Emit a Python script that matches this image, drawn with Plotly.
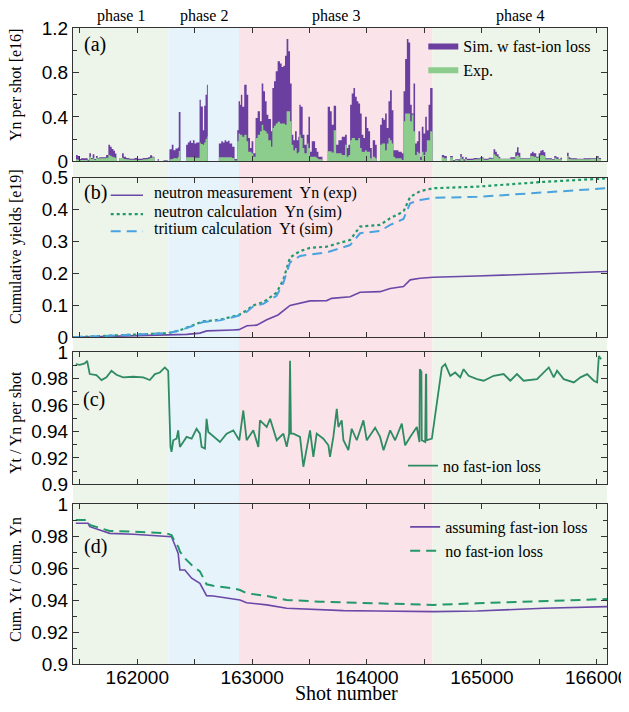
import plotly.graph_objects as go

# ---------------- data ----------------
phase_names = ["phase 1", "phase 2", "phase 3", "phase 4"]
phase_bounds = [161440, 162270, 162885, 164570, 166090]
phase_colors = ["#edf4e9", "#e6f3fa", "#fae3e9", "#edf4e9"]

# (a) per-shot neutron yield [e16], segments start shot / sim / exp
p1_start = [161440, 161466, 161481, 161495, 161510, 161568, 161582, 161597, 161611, 161626,
            161640, 161655, 161669, 161728, 161748, 161763, 161777, 161792, 161806, 161818,
            161844, 161867, 161882, 161902, 161931, 161975, 162004, 162047, 162091, 162111,
            162129, 162149, 162178, 162187, 162228, 162265]
p1_sim = [0, 0.057, 0.048, 0.02, 0.027, 0.015, 0.072, 0.03, 0.063, 0.02,
          0.048, 0.03, 0.036, 0.057, 0.148, 0.13, 0.11, 0.095, 0.07, 0,
          0.03, 0.072, 0.04, 0.03, 0.024, 0.03, 0.024, 0.03, 0.036, 0.055,
          0.042, 0, 0.02, 0, 0.01, 0]
p1_exp = [0, 0.018, 0.015, 0.01, 0.012, 0.006, 0.042, 0.02, 0.027, 0.012,
          0.033, 0.025, 0.027, 0.033, 0.057, 0.05, 0.04, 0.036, 0.03, 0,
          0.03, 0.033, 0.02, 0.018, 0.015, 0.015, 0.012, 0.018, 0.024, 0.03,
          0.036, 0, 0.006, 0, 0.005, 0]

p2_start = [162280, 162300, 162315, 162332, 162353, 162361, 162376, 162425, 162440, 162455,
            162469, 162484, 162498, 162513, 162542, 162553, 162571, 162582, 162594, 162606,
            162614, 162710, 162731, 162745, 162760, 162774, 162789, 162803, 162826, 162847,
            162870]
p2_sim = [0.108, 0.148, 0.10, 0.115, 0.125, 0.443, 0, 0.148, 0.17, 0.185,
          0.165, 0.19, 0.16, 0.17, 0.554, 0.494, 0.28, 0.50, 0.60, 0.69,
          0, 0.16, 0.18, 0.17, 0.19, 0.175, 0.185, 0.16, 0.13, 0.02,
          0.28]
p2_exp = [0.018, 0.02, 0.03, 0.027, 0.04, 0.093, 0, 0.036, 0.036, 0.036,
          0.036, 0.036, 0.033, 0.033, 0.168, 0.155, 0.15, 0.17, 0.20, 0.223,
          0, 0.036, 0.036, 0.036, 0.036, 0.036, 0.036, 0.036, 0.03, 0.008,
          0.18]

p3_start = [162882, 162894, 162902, 162914, 162931, 162952, 162966, 162981, 162995, 163010,
            163030, 163048, 163068, 163083, 163097, 163112, 163126, 163141, 163164, 163176,
            163190, 163205, 163222, 163242, 163257, 163272, 163286, 163300, 163315, 163330,
            163344, 163359, 163373, 163388, 163402, 163411, 163423, 163440, 163455, 163475,
            163490, 163504, 163519, 163548, 163562, 163577, 163612, 163658, 163678, 163693,
            163710, 163731, 163751, 163780, 163809, 163824, 163838, 163853, 163867, 163882,
            163896, 163911, 163925, 163940, 163954, 163969, 163983, 163998, 164012, 164027,
            164042, 164050, 164071, 164085, 164114, 164129, 164143, 164158, 164172, 164187,
            164201, 164216, 164230, 164245, 164274, 164303, 164318, 164332, 164347, 164361,
            164376, 164390, 164405, 164419, 164434, 164448, 164463, 164477, 164492, 164507,
            164521, 164536, 164550]
p3_sim = [0.54, 0.51, 0.60, 0.49, 0.69, 0.60, 0.21, 0.12, 0.18, 0.072,
          0.39, 0.45, 0.36, 0.70, 0.63, 0.54, 0.42, 0.38, 0.27, 0.66,
          0.72, 0.81, 0.90, 0.88, 0.85, 0.86, 0.95, 1.10, 0.99, 0.70,
          0.24, 0.19, 0.27, 0.19, 0.22, 0.51, 0.49, 0.24, 0.15, 0.24,
          0.40, 0.087, 0.18, 0.12, 0.087, 0.042, 0, 0.49, 0.45, 0.33,
          0.50, 0.15, 0.19, 0.22, 0.24, 0.12, 0.15, 0.51, 0.61, 0.66,
          0.58, 0.54, 0.52, 0.43, 0.24, 0.21, 0.40, 0.30, 0.27, 0.12,
          0, 0.19, 0.15, 0, 0.33, 0.39, 0.375, 0.43, 0.30, 0.54,
          0.64, 0.46, 0.10, 0.10, 0.087, 0.072, 0.63, 0.92, 1.10, 1.07,
          0.51, 0.43, 0.70, 0.16, 0.18, 0.27, 0.042, 0.31, 0.25, 0.40,
          0.28, 0.51, 0.66]
p3_exp = [0.25, 0.24, 0.24, 0.22, 0.24, 0.18, 0.087, 0.087, 0.072, 0.042,
          0.21, 0.24, 0.27, 0.33, 0.28, 0.27, 0.25, 0.19, 0.13, 0.30,
          0.32, 0.34, 0.355, 0.34, 0.34, 0.34, 0.33, 0.45, 0.45, 0.36,
          0.15, 0.10, 0.12, 0.072, 0.087, 0.24, 0.21, 0.12, 0.072, 0.16,
          0.12, 0.042, 0.042, 0.042, 0.027, 0.018, 0, 0.09, 0.09, 0.08,
          0.28, 0.072, 0.072, 0.057, 0.15, 0.042, 0.057, 0.19, 0.21, 0.21,
          0.19, 0.19, 0.21, 0.12, 0.087, 0.087, 0.10, 0.087, 0.087, 0.027,
          0, 0.042, 0.027, 0, 0.15, 0.16, 0.16, 0.10, 0.16, 0.21,
          0.19, 0.16, 0.042, 0.027, 0.027, 0.012, 0.36, 0.43, 0.43, 0.43,
          0.36, 0.42, 0.27, 0.057, 0.087, 0.072, 0.012, 0.087, 0.057, 0.087,
          0.19, 0.19, 0.27]

p4_start = [164571, 164652, 164672, 164695, 164724, 164748, 164768, 164797, 164812, 164826,
            164841, 164855, 164870, 164928, 164957, 164986, 165015, 165059, 165088, 165102,
            165117, 165131, 165146, 165160, 165248, 165291, 165306, 165320, 165335, 165422,
            165437, 165451, 165474, 165495, 165509, 165524, 165538, 165553, 165611, 165631,
            165649, 165669, 165684, 165698, 165742, 165756, 165771, 165829, 165887, 165945,
            166004, 166018]
p4_sim = [0, 0.057, 0.048, 0, 0.048, 0.012, 0.018, 0.018, 0.066, 0.042,
          0.018, 0.036, 0.024, 0.03, 0.027, 0.036, 0.024, 0.033, 0.027, 0.108,
          0.087, 0.063, 0.042, 0.024, 0.036, 0.081, 0.127, 0.078, 0.027, 0.072,
          0.087, 0.072, 0.042, 0.072, 0.096, 0.102, 0.081, 0.027, 0.018, 0.048,
          0.036, 0.02, 0.033, 0, 0.078, 0.036, 0.027, 0.024, 0.027, 0.027,
          0.048, 0.03]
p4_exp = [0, 0.036, 0.027, 0, 0.036, 0.006, 0.012, 0.006, 0.042, 0.02,
          0.006, 0.02, 0.012, 0.018, 0.018, 0.027, 0.015, 0.024, 0.02, 0.063,
          0.051, 0.042, 0.027, 0.021, 0.024, 0.048, 0.057, 0.042, 0.024, 0.048,
          0.048, 0.042, 0.033, 0.048, 0.054, 0.057, 0.048, 0.018, 0.012, 0.033,
          0.02, 0.018, 0.018, 0, 0.048, 0.02, 0.018, 0.018, 0.018, 0.021,
          0.033, 0.021]
a_last_shot = 166038

# (b) cumulative yields [e19]
b_shots = [161440, 161760, 162050, 162270, 162370, 162457, 162574, 162720, 162885, 162955,
           163010, 163097, 163213, 163271, 163330, 163417, 163504, 163649, 163853, 163940,
           164114, 164202, 164318, 164376, 164463, 164577, 164958, 165539, 166090]
yn_sim = [0, 0.005, 0.01, 0.013, 0.022, 0.033, 0.05, 0.055, 0.07, 0.085,
          0.10, 0.11, 0.14, 0.18, 0.25, 0.27, 0.28, 0.284, 0.305, 0.347,
          0.352, 0.373, 0.394, 0.44, 0.458, 0.467, 0.472, 0.487, 0.498]
yt_sim = [0, 0.005, 0.01, 0.013, 0.021, 0.032, 0.048, 0.053, 0.068, 0.08,
          0.097, 0.105, 0.13, 0.17, 0.235, 0.255, 0.26, 0.266, 0.289, 0.326,
          0.333, 0.352, 0.371, 0.42, 0.43, 0.437, 0.44, 0.454, 0.467]
b_exp_shots = [161440, 161760, 162050, 162270, 162430, 162545, 162605, 162833, 162885, 162955,
               163040, 163127, 163225, 163330, 163417, 163504, 163649, 163693, 163853, 163940,
               164114, 164202, 164318, 164376, 164463, 164577, 164958, 165539, 166090]
yn_exp = [0, 0.003, 0.007, 0.008, 0.009, 0.013, 0.02, 0.023, 0.024, 0.036,
          0.038, 0.055, 0.07, 0.10, 0.107, 0.114, 0.115, 0.122, 0.127, 0.141,
          0.143, 0.153, 0.159, 0.18, 0.185, 0.188, 0.192, 0.20, 0.206]
b_names = ["neutron measurement", "neutron calculation", "tritium calculation"]
b_tags = ["Yn (exp)", "Yn (sim)", "Yt (sim)"]

# (c) Yt / Yn per shot, no fast-ion loss
c_shots = [161464, 161499, 161542, 161563, 161586, 161644, 161688, 161731, 161775, 161818,
           161877, 161964, 162051, 162109, 162153, 162196, 162240, 162269, 162289, 162298,
           162313, 162342, 162356, 162371, 162400, 162429, 162473, 162516, 162545, 162560,
           162589, 162603, 162618, 162720, 162778, 162836, 162888, 162923, 162952, 163010,
           163054, 163068, 163127, 163156, 163214, 163272, 163301, 163322, 163330, 163338,
           163359, 163417, 163446, 163475, 163504, 163533, 163562, 163620, 163664, 163678,
           163707, 163737, 163751, 163780, 163795, 163838, 163867, 163911, 163969, 163998,
           164071, 164114, 164144, 164202, 164245, 164303, 164332, 164376, 164434, 164457,
           164460, 164474, 164477, 164507, 164513, 164516, 164519, 164565, 164652, 164681,
           164725, 164768, 164812, 164841, 164885, 164958, 165016, 165103, 165190, 165248,
           165306, 165364, 165481, 165539, 165583, 165626, 165655, 165713, 165801, 165859,
           165917, 165975, 166004, 166019, 166039]
c_ratio = [0.9908, 0.9903, 0.9913, 0.9933, 0.9833, 0.9825, 0.9788, 0.9808, 0.9858, 0.9828,
           0.9808, 0.9813, 0.9808, 0.9788, 0.9833, 0.9845, 0.9883, 0.9858, 0.9283, 0.9245,
           0.9333, 0.9345, 0.9408, 0.9283, 0.932, 0.9358, 0.9345, 0.942, 0.9383, 0.9283,
           0.927, 0.9495, 0.9395, 0.932, 0.9383, 0.9408, 0.9333, 0.9558, 0.9333, 0.9408,
           0.9283, 0.9483, 0.9433, 0.9495, 0.9333, 0.9383, 0.9283, 0.9380, 0.9933, 0.9383,
           0.9383, 0.9358, 0.9133, 0.9258, 0.9408, 0.9208, 0.9383, 0.9345, 0.9295, 0.9208,
           0.9358, 0.957, 0.9433, 0.9483, 0.9333, 0.9258, 0.942, 0.9333, 0.9483, 0.9333,
           0.9428, 0.9358, 0.9258, 0.9408, 0.9333, 0.9458, 0.9295, 0.9358, 0.9433, 0.932,
           0.987, 0.985, 0.9333, 0.932, 0.9833, 0.9830, 0.9333, 0.9345, 0.9883, 0.9908,
           0.982, 0.9845, 0.9808, 0.987, 0.982, 0.9795, 0.9783, 0.982, 0.9833, 0.9783,
           0.9833, 0.9783, 0.9795, 0.9845, 0.9883, 0.9808, 0.9858, 0.9795, 0.977, 0.9808,
           0.9833, 0.9783, 0.977, 0.997, 0.9945]

# (d) cumulative ratio
d_shots = [161464, 161571, 161586, 161673, 161760, 161964, 162255, 162298, 162327, 162356,
           162371, 162414, 162473, 162545, 162603, 162661, 162836, 162894, 162952, 163127,
           163301, 163592, 163795, 164085, 164347, 164580, 164958, 165539, 166091]
d_loss = [0.9881, 0.9881, 0.986, 0.9839, 0.9818, 0.9812, 0.9797, 0.9797, 0.9745, 0.9693,
          0.9589, 0.9589, 0.9537, 0.9505, 0.9428, 0.9426, 0.9407, 0.9401, 0.9384, 0.937,
          0.9349, 0.9338, 0.9334, 0.9332, 0.9328, 0.9328, 0.9332, 0.9349, 0.9359]
d_noloss = [0.9902, 0.9902, 0.9871, 0.985, 0.9833, 0.9829, 0.9818, 0.9808, 0.9766, 0.9735,
            0.9704, 0.9662, 0.962, 0.958, 0.9499, 0.9490, 0.9474, 0.9463, 0.9443, 0.9426,
            0.9401, 0.939, 0.9385, 0.938, 0.9374, 0.937, 0.938, 0.9395, 0.9407]

# ---------------- build ----------------
a_start = p1_start + p2_start + p3_start + p4_start
a_sim = p1_sim + p2_sim + p3_sim + p4_sim
a_exp = p1_exp + p2_exp + p3_exp + p4_exp
a_x = a_start + [a_last_shot]

SERIF = "Liberation Serif"
SANS = "Liberation Sans"
PURPLE = "#6b3fa0"
GREEN_FILL = "#8ccc8c"
LINE_PURPLE = "#6a48a8"
DOT_GREEN = "#22996a"
BLUE = "#4aa3df"
C_GREEN = "#2e8b62"

b_styles = [dict(color=LINE_PURPLE, width=1.6), dict(color=DOT_GREEN, width=2.2, dash="dot"),
            dict(color=BLUE, width=2, dash="10px,6px")]

fig = go.Figure()

fig.add_trace(go.Scatter(x=a_x, y=a_sim + [a_sim[-1]], mode="lines", line_shape="hv",
                         line=dict(width=0, color=PURPLE), fill="tozeroy", fillcolor=PURPLE,
                         name="Sim. w fast-ion loss", xaxis="x", yaxis="y", legend="legend"))
fig.add_trace(go.Scatter(x=a_x, y=a_exp + [a_exp[-1]], mode="lines", line_shape="hv",
                         line=dict(width=0, color=GREEN_FILL), fill="tozeroy", fillcolor=GREEN_FILL,
                         name="Exp.", xaxis="x", yaxis="y", legend="legend"))

for xs, ys, nm, tg, st in zip([b_exp_shots, b_shots, b_shots], [yn_exp, yn_sim, yt_sim], b_names, b_tags, b_styles):
    fig.add_trace(go.Scatter(x=xs, y=ys, mode="lines", line=st, name=nm + " " + tg,
                             xaxis="x2", yaxis="y2", showlegend=False))

fig.add_trace(go.Scatter(x=c_shots, y=c_ratio, mode="lines", line=dict(color=C_GREEN, width=1.8),
                         name="no fast-ion loss", xaxis="x3", yaxis="y3", legend="legend3"))

fig.add_trace(go.Scatter(x=d_shots, y=d_loss, mode="lines", line=dict(color=LINE_PURPLE, width=1.6),
                         name="assuming fast-ion loss", xaxis="x4", yaxis="y4", legend="legend4"))
fig.add_trace(go.Scatter(x=d_shots, y=d_noloss, mode="lines", line=dict(color=DOT_GREEN, width=2, dash="10px,6px"),
                         name="no fast-ion loss", xaxis="x4", yaxis="y4", legend="legend4"))

xr = [phase_bounds[0], phase_bounds[-1]]
axcol = "#333333"


def xax(anchor, labels):
    d = dict(domain=[0, 1], anchor=anchor, range=xr, showline=True, mirror="ticks", linecolor=axcol,
             linewidth=1, ticks="inside", ticklen=5, tickcolor=axcol, dtick=1000, tick0=0,
             tickformat="d", automargin=False,
             showgrid=False, zeroline=False, showticklabels=labels,
             tickfont=dict(family=SANS, size=19, color="black"),
             minor=dict(dtick=500, tick0=0, ticks="inside", ticklen=5, tickcolor=axcol, showgrid=False))
    if labels:
        d["ticklabelstandoff"] = -4
    return d


def yax(anchor, dom, rng, dt, mdt):
    d = dict(domain=dom, anchor=anchor, range=rng, showline=True, mirror="ticks", linecolor=axcol,
             linewidth=1, ticks="inside", ticklen=6, tickcolor=axcol, dtick=dt, tick0=0, automargin=False,
             showgrid=False, zeroline=False, tickfont=dict(family=SANS, size=19, color="black"))
    if mdt:
        d["minor"] = dict(dtick=mdt, tick0=0, ticks="inside", ticklen=4, tickcolor=axcol, showgrid=False)
    return d


shapes = []
for i in range(4):
    shapes.append(dict(type="rect", xref="x4", yref="paper", x0=phase_bounds[i], x1=phase_bounds[i + 1],
                       y0=0, y1=1, fillcolor=phase_colors[i], line=dict(width=0), layer="below"))

ann = []
# legend of panel (b)
for k, (nm, tg, st) in enumerate(zip(b_names, b_tags, b_styles)):
    ly = [0.7400, 0.7105, 0.6835][k]
    shapes.append(dict(type="line", xref="paper", yref="paper", x0=0.0706, x1=0.1311, y0=ly - 0.003,
                       y1=ly - 0.003, line=st))
    ann.append(dict(text=nm + "\u00a0 " + tg, xref="paper", yref="paper", x=0.1487, y=ly, showarrow=False,
                    font=dict(family=SERIF, size=16, color="black"), xanchor="left", yanchor="middle"))

for i, nm in enumerate(phase_names):
    ann.append(dict(text=nm, xref="x4", yref="paper", x=(phase_bounds[i] + phase_bounds[i + 1]) / 2,
                    y=1.0185, showarrow=False, font=dict(family=SERIF, size=16, color="black"),
                    xanchor="center", yanchor="middle", borderpad=0))
for lab, px_, py_ in [("(a)", 0.0412, 0.9733), ("(b)", 0.0412, 0.7421), ("(c)", 0.0393, 0.4151),
                      ("(d)", 0.0412, 0.184)]:
    ann.append(dict(text=lab, xref="paper", yref="paper", x=px_, y=py_, showarrow=False,
                    font=dict(family=SERIF, size=20, color="black"), xanchor="center", yanchor="middle"))
for t, py_ in [("Yn per shot [e16]", 0.9104), ("Cumulative yields [e19]", 0.6557),
               ("Yt / Yn per shot", 0.3789), ("Cum. Yt / Cum. Yn", 0.1321)]:
    ann.append(dict(text=t, xref="paper", yref="paper", x=-0.1067, y=py_, textangle=-90, showarrow=False,
                    font=dict(family=SERIF, size=16, color="black"), xanchor="center", yanchor="middle",
                    borderpad=0))
ann.append(dict(text="Shot number", xref="paper", yref="paper", x=0.513, y=-0.0456, showarrow=False,
                font=dict(family=SERIF, size=20, color="black"), xanchor="center", yanchor="middle"))

leg_common = dict(bgcolor="rgba(0,0,0,0)", borderwidth=0, font=dict(family=SERIF, size=16, color="black"),
                  xanchor="left", yanchor="top")

fig.update_layout(
    width=621, height=696,
    margin=dict(l=65, r=22, t=20, b=40, autoexpand=False),
    font=dict(family=SERIF, size=16, color="black"),
    paper_bgcolor="white", plot_bgcolor="rgba(0,0,0,0)",
    xaxis=xax("y", False), xaxis2=xax("y2", False), xaxis3=xax("y3", False), xaxis4=xax("y4", True),
    yaxis=yax("x", [0.7904, 1.0], [0, 1.2], 0.4, 0.2),
    yaxis2=yax("x2", [0.5137, 0.7646], [0, 0.5], 0.1, None),
    yaxis3=yax("x3", [0.2825, 0.4906], [0.9, 1.0], 0.02, 0.01),
    yaxis4=yax("x4", [0.0, 0.2511], [0.9, 1.0], 0.02, 0.01),
    legend=dict(x=0.656, y=0.999, **leg_common),
    legend3=dict(x=0.618, y=0.3385, **leg_common),
    legend4=dict(x=0.622, y=0.2421, **leg_common),
    shapes=shapes, annotations=ann, showlegend=True,
)

fig.write_html("out.html")
